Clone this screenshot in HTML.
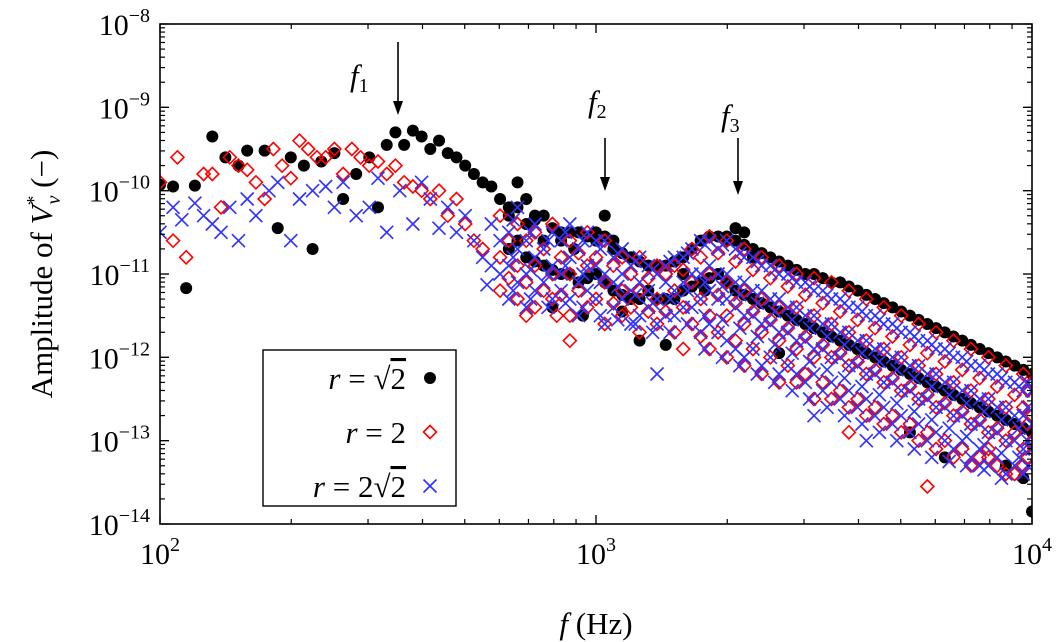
<!DOCTYPE html>
<html><head><meta charset="utf-8"><style>
html,body{margin:0;padding:0;background:#fff;}
svg{display:block;font-family:"Liberation Serif",serif;}
</style></head><body>
<svg id="chart" width="1060" height="642" viewBox="0 0 1060 642" xmlns="http://www.w3.org/2000/svg" style="position:absolute;left:0;top:0">
<g id="marks"></g>
<g id="axes"></g>
</svg>
<script>
// ---- data (log10 frequency, log10 amplitude) ----
const xTickExps = [2, 3, 4];
const yTickExps = [-8, -9, -10, -11, -12, -13, -14];
// black r=sqrt2 : sparse points [logF, logA]
const blackPts = [[2.00,-9.93],[2.03,-9.95],[2.06,-11.17],[2.08,-9.94],[2.12,-9.35],[2.15,-9.6],[2.18,-9.7],[2.2,-9.52],[2.24,-9.52],[2.27,-10.45],[2.3,-9.6],[2.33,-9.7],[2.35,-10.7],[2.37,-9.65],[2.4,-9.55],[2.42,-10.1],[2.45,-9.8],[2.48,-9.6],[2.5,-10.2],[2.52,-9.45],[2.54,-9.3],[2.56,-9.45],[2.58,-9.28],[2.6,-9.35],[2.62,-9.5],[2.64,-9.4],[2.66,-9.55],[2.68,-9.6],[2.7,-9.7],[2.72,-9.8],[2.74,-9.9],[2.76,-9.95],[2.78,-10.1],[2.8,-10.2],[2.82,-9.9],[2.84,-10.1],[2.86,-10.3],[2.88,-10.6],[2.9,-11.4],[2.92,-10.5],[2.95,-10.7],[2.97,-11.5],[3.0,-10.5],[3.02,-10.3],[3.04,-10.6],[3.06,-11.45],[3.08,-10.8],[3.1,-11.8],[3.12,-10.9],[3.16,-11.85],[3.2,-11.0],[3.25,-11.2],[3.3,-10.6],[3.32,-10.45],[3.34,-10.5],[3.36,-10.8],[3.42,-11.95],[3.6,-11.9],[3.72,-12.9],[3.8,-13.2],[3.94,-13.3],[3.98,-13.45],[4.0,-13.85]];
// black dense columns [logF, logA...]
const blackCols = [[2.80,-10.3,-10.7],[2.84,-10.4,-10.8],[2.88,-10.3,-10.9],[2.92,-10.6,-11.0],[2.96,-10.5,-11.1],[3.00,-10.6,-11.0],[3.04,-10.7,-11.2],[3.08,-10.8,-11.3],[3.12,-10.9,-11.2],[3.16,-10.9,-11.3],[3.20,-10.8,-11.2],[3.24,-10.6,-11.1],[3.28,-10.55,-11.0],[3.32,-10.6,-11.2],[3.36,-10.7,-11.3],[3.40,-10.8,-11.4],[3.44,-10.9,-11.5],[3.48,-11.0,-11.6],[3.52,-11.05,-11.7],[3.56,-11.1,-11.8],[3.60,-11.2,-11.9],[3.64,-11.3,-12.0],[3.68,-11.4,-12.1],[3.72,-11.5,-12.2],[3.76,-11.6,-12.3],[3.80,-11.7,-12.4],[3.84,-11.8,-12.5],[3.88,-11.9,-12.6],[3.92,-12.0,-12.7],[3.96,-12.1,-12.8],[4.00,-12.2,-12.9],
[2.82,-10.2,-10.6],[2.86,-10.35,-10.85],[2.90,-10.45,-10.95],[2.94,-10.5,-11.0],[2.98,-10.55,-11.05],[3.02,-10.55,-11.1],[3.06,-10.75,-11.25],[3.10,-10.85,-11.3],[3.14,-10.9,-11.3],[3.18,-10.85,-11.3],[3.22,-10.7,-11.15],[3.26,-10.55,-11.05],[3.30,-10.55,-11.1],[3.34,-10.65,-11.25],[3.38,-10.75,-11.35],[3.42,-10.85,-11.45],[3.46,-10.95,-11.55],[3.50,-11.0,-11.65],[3.54,-11.1,-11.75],[3.58,-11.15,-11.85],[3.62,-11.25,-11.95],[3.66,-11.35,-12.05],[3.70,-11.45,-12.15],[3.74,-11.55,-12.25],[3.78,-11.65,-12.35],[3.82,-11.75,-12.45],[3.86,-11.85,-12.55],[3.90,-11.95,-12.65],[3.94,-12.05,-12.75],[3.98,-12.15,-12.85]];
// red r=2
const redPts = [[2.0,-9.9],[2.03,-10.6],[2.04,-9.6],[2.06,-10.8],[2.1,-9.8],[2.12,-9.8],[2.14,-10.2],[2.16,-9.6],[2.18,-9.7],[2.2,-9.75],[2.22,-9.9],[2.24,-10.1],[2.26,-9.5],[2.28,-9.7],[2.3,-9.85],[2.32,-9.4],[2.34,-9.5],[2.36,-9.6],[2.38,-9.6],[2.4,-9.5],[2.42,-9.8],[2.44,-9.5],[2.46,-9.6],[2.48,-9.7],[2.5,-9.65],[2.52,-9.8],[2.54,-9.7],[2.56,-9.9],[2.58,-9.95],[2.6,-10.0],[2.62,-10.1],[2.64,-10.0],[2.66,-10.3],[2.68,-10.1],[2.7,-10.4],[2.72,-10.6],[2.74,-10.7],[2.94,-11.8],[2.91,-11.5],[3.2,-11.9],[3.58,-12.9],[3.76,-13.55],[3.9,-13.1]];
const redCols = [[2.78,-10.3,-10.8,-11.2],[2.82,-10.4,-10.9,-11.3],[2.86,-10.5,-10.9,-11.4],[2.90,-10.4,-11.0,-11.3],[2.94,-10.6,-11.0,-11.5],[2.98,-10.5,-10.9,-11.4],[3.02,-10.6,-11.1,-11.6],[3.06,-10.8,-11.2,-11.5],[3.10,-10.8,-11.2,-11.7],[3.14,-10.9,-11.3,-11.6],[3.18,-10.9,-11.2,-11.7],[3.22,-10.7,-11.1,-11.6],[3.26,-10.55,-11.0,-11.5,-11.9],[3.30,-10.6,-11.1,-11.5,-12.0],[3.34,-10.7,-11.2,-11.6,-12.1],[3.38,-10.8,-11.3,-11.7,-12.2],[3.42,-10.9,-11.4,-11.8,-12.3],[3.46,-11.0,-11.4,-11.9,-12.3],[3.50,-11.05,-11.5,-12.0,-12.5],[3.54,-11.1,-11.6,-12.0,-12.5],[3.58,-11.2,-11.7,-12.1,-12.6],[3.62,-11.3,-11.8,-12.2,-12.7],[3.66,-11.4,-11.9,-12.3,-12.8],[3.70,-11.5,-12.0,-12.4,-12.9],[3.74,-11.6,-12.1,-12.5,-13.0],[3.78,-11.7,-12.2,-12.6,-13.1],[3.82,-11.8,-12.3,-12.7,-13.2],[3.86,-11.9,-12.4,-12.8,-13.3],[3.90,-12.0,-12.5,-12.9,-13.2],[3.94,-12.1,-12.6,-13.0,-13.4],[3.98,-12.2,-12.6,-13.1,-13.3],[4.00,-12.3,-12.7,-13.0],
[2.80,-10.6,-11.05],[2.84,-10.6,-11.1,-11.5],[2.88,-10.7,-11.2],[2.92,-10.8,-11.25],[2.96,-10.75,-11.2],[3.00,-10.8,-11.3],[3.04,-10.9,-11.35],[3.08,-11.0,-11.4],[3.12,-11.05,-11.45],[3.16,-11.0,-11.45],[3.20,-10.95,-11.4],[3.24,-10.8,-11.3,-11.75],[3.28,-10.75,-11.25,-11.7],[3.32,-10.85,-11.35,-11.8],[3.36,-10.95,-11.45,-11.9],[3.40,-11.05,-11.55,-12.0],[3.44,-11.15,-11.65,-12.1],[3.48,-11.25,-11.75,-12.2],[3.52,-11.35,-11.85,-12.3],[3.56,-11.45,-11.95,-12.4],[3.60,-11.55,-12.05,-12.5],[3.64,-11.65,-12.15,-12.6],[3.68,-11.75,-12.25,-12.7],[3.72,-11.85,-12.35,-12.8],[3.76,-11.95,-12.45,-12.9],[3.80,-12.05,-12.55,-13.0],[3.84,-12.15,-12.65,-13.1],[3.88,-12.25,-12.75,-13.2],[3.92,-12.35,-12.85,-13.3],[3.96,-12.45,-12.9,-13.4],[3.99,-12.4,-12.8,-13.2]];
// blue r=2sqrt2
const bluePts = [[2.0,-10.5],[2.03,-10.2],[2.05,-10.35],[2.08,-10.15],[2.1,-10.3],[2.12,-10.4],[2.14,-10.5],[2.16,-10.2],[2.18,-10.6],[2.2,-10.1],[2.22,-10.3],[2.25,-10.0],[2.27,-9.9],[2.3,-10.6],[2.32,-10.1],[2.35,-10.0],[2.38,-9.95],[2.4,-10.2],[2.42,-9.9],[2.45,-10.3],[2.48,-10.2],[2.5,-9.85],[2.52,-10.5],[2.55,-10.0],[2.58,-10.4],[2.6,-9.9],[2.62,-10.1],[2.64,-10.45],[2.66,-10.2],[2.68,-10.5],[2.7,-10.3],[2.72,-10.6],[2.74,-10.8],[2.75,-11.13],[3.14,-12.2],[3.5,-12.7],[3.62,-13.0],[3.88,-13.3]];
const blueCols = [[2.76,-10.4,-10.9],[2.78,-10.6,-11.0],[2.80,-10.5,-10.9,-11.3],[2.82,-10.2,-10.7,-11.1],[2.84,-10.6,-11.0,-11.4],[2.86,-10.4,-10.8,-11.2],[2.88,-10.7,-11.1],[2.90,-10.5,-10.9,-11.3],[2.92,-10.6,-11.0,-11.2],[2.94,-10.4,-10.8,-11.3],[2.96,-10.7,-11.1,-11.5],[2.98,-10.5,-10.9,-11.2],[3.00,-10.6,-10.9,-11.3],[3.02,-10.6,-11.0,-11.6],[3.04,-10.8,-11.1,-11.4],[3.06,-10.7,-11.0,-11.3],[3.08,-10.9,-11.2,-11.6],[3.10,-10.8,-11.1,-11.5],[3.12,-10.9,-11.2,-11.4],[3.14,-11.0,-11.3,-11.6],[3.16,-10.9,-11.1,-11.5],[3.18,-10.8,-11.2,-11.5],[3.20,-10.8,-11.1,-11.4],[3.22,-10.7,-11.0,-11.4],[3.24,-10.6,-11.0,-11.3,-11.7],[3.26,-10.6,-10.9,-11.2,-11.6],[3.28,-10.7,-11.0,-11.3,-11.7],[3.30,-10.6,-11.0,-11.3,-11.8],[3.32,-10.7,-11.1,-11.4,-11.9],[3.34,-10.8,-11.1,-11.5,-12.0],[3.36,-10.8,-11.2,-11.5,-11.9],[3.38,-10.9,-11.2,-11.6,-12.1],[3.40,-10.9,-11.3,-11.6,-12.0],[3.42,-11.0,-11.3,-11.7,-12.2],[3.44,-11.0,-11.4,-11.7,-12.1],[3.46,-11.1,-11.4,-11.8,-12.2],[3.48,-11.1,-11.5,-11.8,-12.3],[3.50,-11.2,-11.5,-11.9,-12.2],[3.52,-11.2,-11.6,-11.9,-12.4],[3.54,-11.3,-11.6,-12.0,-12.3],[3.56,-11.3,-11.7,-12.0,-12.5],[3.58,-11.4,-11.7,-12.1,-12.4],[3.60,-11.4,-11.8,-12.1,-12.6],[3.62,-11.5,-11.8,-12.2,-12.5],[3.64,-11.5,-11.9,-12.2,-12.7],[3.66,-11.6,-11.9,-12.3,-12.6],[3.68,-11.6,-12.0,-12.3,-12.8],[3.70,-11.7,-12.0,-12.4,-12.7],[3.72,-11.7,-12.1,-12.4,-12.9],[3.74,-11.8,-12.1,-12.5,-12.8],[3.76,-11.8,-12.2,-12.5,-13.0],[3.78,-11.9,-12.2,-12.6,-12.9],[3.80,-11.9,-12.3,-12.6,-13.0],[3.82,-12.0,-12.3,-12.7,-13.1],[3.84,-12.0,-12.4,-12.7,-13.0],[3.86,-12.1,-12.4,-12.8,-13.2],[3.88,-12.1,-12.5,-12.8,-13.1],[3.90,-12.2,-12.5,-12.9,-13.3],[3.92,-12.2,-12.6,-12.9,-13.2],[3.94,-12.3,-12.6,-13.0,-13.4],[3.96,-12.3,-12.7,-13.0,-13.3],[3.98,-12.4,-12.7,-13.1,-13.4],[4.00,-12.4,-12.8,-13.1],
[2.81,-10.35,-10.8,-11.2],[2.85,-10.5,-10.95,-11.3],[2.89,-10.6,-11.0,-11.4],[2.93,-10.5,-10.9,-11.35],[2.97,-10.6,-11.0,-11.4],[3.01,-10.7,-11.1,-11.5],[3.05,-10.75,-11.15,-11.55],[3.09,-10.85,-11.25,-11.6],[3.13,-10.95,-11.35,-11.7],[3.17,-10.85,-11.3,-11.7],[3.21,-10.75,-11.2,-11.6],[3.25,-10.65,-11.1,-11.5,-11.9],[3.29,-10.65,-11.15,-11.55,-12.0],[3.33,-10.75,-11.25,-11.65,-12.1],[3.37,-10.85,-11.35,-11.75,-12.2],[3.41,-10.95,-11.45,-11.85,-12.3],[3.45,-11.05,-11.55,-11.95,-12.4],[3.49,-11.15,-11.65,-12.05,-12.5],[3.53,-11.25,-11.75,-12.15,-12.6],[3.57,-11.35,-11.85,-12.25,-12.7],[3.61,-11.45,-11.95,-12.35,-12.8],[3.65,-11.55,-12.05,-12.45,-12.9],[3.69,-11.65,-12.15,-12.55,-13.0],[3.73,-11.75,-12.25,-12.65,-13.1],[3.77,-11.85,-12.35,-12.75,-13.2],[3.81,-11.95,-12.45,-12.85,-13.25],[3.85,-12.05,-12.55,-12.95,-13.3],[3.89,-12.15,-12.65,-13.05,-13.35],[3.93,-12.25,-12.75,-13.15,-13.45],[3.97,-12.35,-12.85,-13.2],[3.99,-12.3,-12.6,-13.0,-13.3]];

const NS='http://www.w3.org/2000/svg';
const L=160,R=1032,T=24,B=524;
function xs(lf){return L+(lf-2)/2*(R-L);}
function ys(la){return T+(-8-la)/6*(B-T);}
const marks=document.getElementById('marks'), axes=document.getElementById('axes');
function el(tag,attrs,parent){const e=document.createElementNS(NS,tag);for(const k in attrs)e.setAttribute(k,attrs[k]);parent.appendChild(e);return e;}

function expand(pts,cols){const out=pts.slice();cols.forEach(c=>{for(let i=1;i<c.length;i++)out.push([c[0],c[i]]);});return out;}
const S=6.5;
function circle(x,y,g){return el('circle',{cx:x,cy:y,r:6,fill:'#000'},g);}
function diamond(x,y,g){return el('path',{d:`M${x},${y-S}L${x+S},${y}L${x},${y+S}L${x-S},${y}Z`,fill:'none',stroke:'#f00','stroke-width':1.6},g);}
function cross(x,y,g){return el('path',{d:`M${x-S},${y-S}L${x+S},${y+S}M${x+S},${y-S}L${x-S},${y+S}`,stroke:'#33f','stroke-width':1.7},g);}

const clip=el('clipPath',{id:'pc'},el('defs',{},marks));
el('rect',{x:L,y:T,width:R-L,height:B-T},clip);
const gB=el('g',{'clip-path':'url(#pc)'},marks);


const gR=el('g',{'clip-path':'url(#pc)'},marks);


const gU=el('g',{'clip-path':'url(#pc)'},marks);


expand(blackPts,blackCols).forEach(p=>{const m=circle(xs(p[0]),ys(p[1]),gB);

});
expand(redPts,redCols).forEach(p=>{const m=diamond(xs(p[0]),ys(p[1]),gR);

});
expand(bluePts,blueCols).forEach(p=>{const m=cross(xs(p[0]),ys(p[1]),gU);

});

const frame=el('rect',{x:L,y:T,width:R-L,height:B-T,fill:'none',stroke:'#000','stroke-width':1.6},axes);


for(let d=2;d<4;d++){for(let m=1;m<=10;m++){const lf=d+Math.log10(m);const x=xs(lf);const len=(m===1||m===10)?9:5;
el('line',{x1:x,y1:B,x2:x,y2:B-len,stroke:'#000','stroke-width':1.2},axes);
el('line',{x1:x,y1:T,x2:x,y2:T+len,stroke:'#000','stroke-width':1.2},axes);}}
for(let d=-14;d<-8;d++){for(let m=1;m<=10;m++){const la=d+Math.log10(m);const y=ys(la);const len=(m===1||m===10)?9:5;
el('line',{x1:L,y1:y,x2:L+len,y2:y,stroke:'#000','stroke-width':1.2},axes);
el('line',{x1:R,y1:y,x2:R-len,y2:y,stroke:'#000','stroke-width':1.2},axes);}}
xTickExps.forEach(e=>{const t=el('text',{x:xs(e),y:564,'font-size':30,'text-anchor':'middle'},axes);


t.innerHTML=`10<tspan dy="-13" font-size="20">${e}</tspan>`;});
yTickExps.forEach(e=>{const t=el('text',{x:150,y:ys(e)+11,'font-size':30,'text-anchor':'end'},axes);


t.innerHTML=`10<tspan dy="-13" font-size="20">\u2212${-e}</tspan>`;});
</script>
<svg style="position:absolute;left:0;top:0" width="1060" height="642">
<g font-family="Liberation Serif, serif" font-size="31">
<text x="596" y="634" text-anchor="middle"><tspan font-style="italic">f</tspan> (Hz)</text>
<text transform="translate(52,274) rotate(-90)" text-anchor="middle">Amplitude of <tspan font-style="italic">V</tspan><tspan font-size="20" dy="-12">*</tspan><tspan font-size="20" dx="-9" dy="20" font-style="italic">v</tspan><tspan dy="-8"> (−)</tspan></text>
<g><line x1="398" y1="42" x2="398" y2="104" stroke="#000" stroke-width="1.6"/><path d="M393,101L403,101L398,115Z" fill="#000"/></g>
<text x="350" y="86" font-style="italic">f<tspan font-style="normal" font-size="20" dy="6">1</tspan></text>
<g><line x1="605" y1="138" x2="605" y2="180" stroke="#000" stroke-width="1.6"/><path d="M600,177L610,177L605,191Z" fill="#000"/></g>
<text x="588" y="112" font-style="italic">f<tspan font-style="normal" font-size="20" dy="6">2</tspan></text>
<g><line x1="738" y1="138" x2="738" y2="184" stroke="#000" stroke-width="1.6"/><path d="M733,181L743,181L738,195Z" fill="#000"/></g>
<text x="721" y="126" font-style="italic">f<tspan font-style="normal" font-size="20" dy="6">3</tspan></text>
<g>
<rect x="263" y="350" width="193" height="156" fill="#fff" stroke="#000" stroke-width="1.4"/>
<text x="406" y="389" text-anchor="end"><tspan font-style="italic">r</tspan> = √<tspan text-decoration="overline">2</tspan></text>
<circle cx="430" cy="378" r="6" fill="#000"/>
<text x="406" y="443" text-anchor="end"><tspan font-style="italic">r</tspan> = 2</text>
<path d="M430,425.5L436.5,432L430,438.5L423.5,432Z" fill="none" stroke="#f00" stroke-width="1.6"/>
<text x="406" y="497" text-anchor="end"><tspan font-style="italic">r</tspan> = 2√<tspan text-decoration="overline">2</tspan></text>
<path d="M423.5,479.5L436.5,492.5M436.5,479.5L423.5,492.5" stroke="#33f" stroke-width="1.7"/>
</g>
</g>
</svg>
</body></html>
